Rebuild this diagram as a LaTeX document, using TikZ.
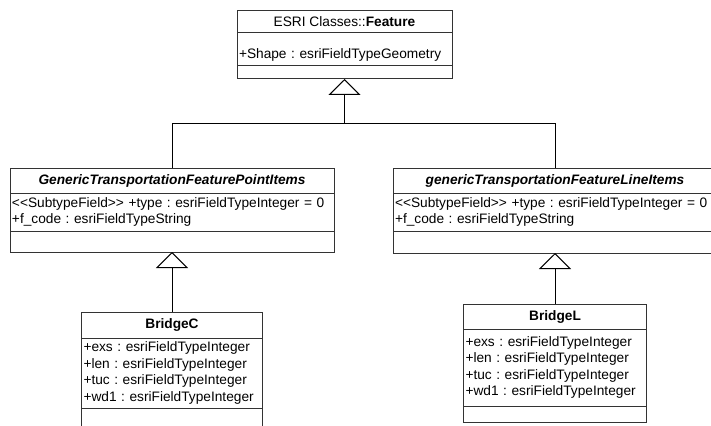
\documentclass[tikz,border=0pt]{standalone}
\usepackage{fontspec}
\setmainfont{Liberation Sans}
\usetikzlibrary{positioning,arrows.meta}
\newcommand{\classfont}{\fontsize{13.7}{16.5}\selectfont\frenchspacing}
\newcommand{\stereotype}[1]{<\kern0pt<#1>\kern0pt>}
\begin{document}
\begin{tikzpicture}[x=1pt,y=-1pt,font=\classfont,
  box/.style={draw=black!80, line width=1pt, outer sep=0pt, inner sep=0pt, minimum width=#1},
  titlebox/.style={box=#1},
  attrbox/.style={box=#1, inner xsep=2pt, text width=#1-4pt, align=left},
  genl/.style={-{Triangle[open,length=16pt,width=32pt]}, line width=1pt}]
  \useasboundingbox (0,0) rectangle (711,425);
  \clip (0,0) rectangle (711,425);

  \node[titlebox=215pt, minimum height=22pt, anchor=north] (featureTitle) at (344.5,11) {ESRI Classes::\textbf{Feature}};
  \node[attrbox=215pt, minimum height=33pt, text height=20pt, below=0pt of featureTitle] (featureAttr) {+Shape : esriFieldTypeGeometry};
  \node[box=215pt, minimum height=13pt, below=0pt of featureAttr] (featureOps) {};

  \node[titlebox=324pt, minimum height=25pt, anchor=north] (pointTitle) at (172,168) {\textbf{\textit{GenericTransportationFeaturePointItems}}};
  \node[attrbox=324pt, minimum height=38pt, below=0pt of pointTitle] (pointAttr) {\stereotype{SubtypeField} +type : esriFieldTypeInteger~=~0\\+f\_code : esriFieldTypeString};
  \node[box=324pt, minimum height=21pt, below=0pt of pointAttr] (pointOps) {};

  \node[titlebox=324pt, minimum height=25pt, anchor=north] (lineTitle) at (555,168) {\textbf{\textit{genericTransportationFeatureLineItems}}};
  \node[attrbox=324pt, minimum height=38pt, below=0pt of lineTitle] (lineAttr) {\stereotype{SubtypeField} +type : esriFieldTypeInteger~=~0\\+f\_code : esriFieldTypeString};
  \node[box=324pt, minimum height=22pt, below=0pt of lineAttr] (lineOps) {};

  \node[titlebox=181pt, minimum height=26pt, anchor=north] (bridgeCTitle) at (172,312) {\textbf{BridgeC}};
  \node[attrbox=181pt, minimum height=70pt, below=0pt of bridgeCTitle] (bridgeCAttr) {+exs : esriFieldTypeInteger\\+len : esriFieldTypeInteger\\+tuc : esriFieldTypeInteger\\+wd1 : esriFieldTypeInteger};
  \node[box=181pt, minimum height=20pt, below=0pt of bridgeCAttr] (bridgeCOps) {};

  \node[titlebox=183pt, minimum height=25pt, anchor=north] (bridgeLTitle) at (555,304) {\textbf{BridgeL}};
  \node[attrbox=183pt, minimum height=77pt, below=0pt of bridgeLTitle] (bridgeLAttr) {+exs : esriFieldTypeInteger\\+len : esriFieldTypeInteger\\+tuc : esriFieldTypeInteger\\+wd1 : esriFieldTypeInteger};
  \node[box=183pt, minimum height=16pt, below=0pt of bridgeLAttr] (bridgeLOps) {};

  \coordinate (join) at (344.5,123);
  \draw[genl] (join) -- (featureOps.south);
  \draw[line width=1pt] (pointTitle.north) |- (join);
  \draw[line width=1pt] (lineTitle.north) |- (join);
  \draw[genl] (bridgeCTitle.north) -- (pointOps.south);
  \draw[genl] (bridgeLTitle.north) -- (lineOps.south);
\end{tikzpicture}
\end{document}
